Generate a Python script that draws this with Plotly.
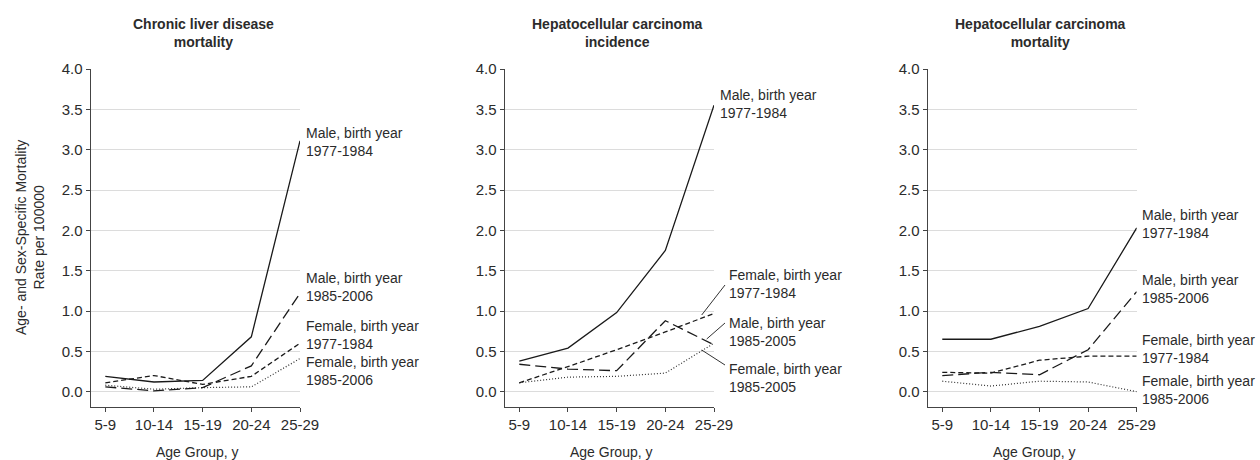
import plotly.graph_objects as go

age_groups = ["5-9", "10-14", "15-19", "20-24", "25-29"]
y_ticks = [0.0, 0.5, 1.0, 1.5, 2.0, 2.5, 3.0, 3.5, 4.0]

panel_titles = ["Chronic liver disease<br>mortality",
                "Hepatocellular carcinoma<br>incidence",
                "Hepatocellular carcinoma<br>mortality"]

# Panel 1: Chronic liver disease mortality
cld_male_1977 = [0.19, 0.12, 0.14, 0.68, 3.11]
cld_male_1985 = [0.06, 0.01, 0.05, 0.32, 1.22]
cld_female_1977 = [0.11, 0.20, 0.09, 0.19, 0.60]
cld_female_1985 = [0.08, 0.03, 0.05, 0.06, 0.41]

# Panel 2: Hepatocellular carcinoma incidence
hcci_male_1977 = [0.38, 0.54, 0.98, 1.75, 3.55]
hcci_male_1985 = [0.34, 0.28, 0.26, 0.88, 0.58]
hcci_female_1977 = [0.11, 0.31, 0.52, 0.74, 0.97]
hcci_female_1985 = [0.11, 0.18, 0.19, 0.23, 0.60]

# Panel 3: Hepatocellular carcinoma mortality
hccm_male_1977 = [0.65, 0.65, 0.81, 1.03, 2.03]
hccm_male_1985 = [0.20, 0.24, 0.21, 0.52, 1.24]
hccm_female_1977 = [0.24, 0.23, 0.39, 0.44, 0.44]
hccm_female_1985 = [0.13, 0.07, 0.13, 0.12, 0.00]

series_labels_1 = ["Male, birth year<br>1977-1984", "Male, birth year<br>1985-2006",
                   "Female, birth year<br>1977-1984", "Female, birth year<br>1985-2006"]
series_labels_2 = ["Male, birth year<br>1977-1984", "Female, birth year<br>1977-1984",
                   "Male, birth year<br>1985-2005", "Female, birth year<br>1985-2005"]
series_labels_3 = ["Male, birth year<br>1977-1984", "Male, birth year<br>1985-2006",
                   "Female, birth year<br>1977-1984", "Female, birth year<br>1985-2006"]

W, H = 1260, 460
FONT = "Liberation Sans, Arial, sans-serif"
TXT = "#2b2b2b"
LINE = "#1a1a1a"

styles = {
    "male_1977": dict(dash="solid", width=1.3, color=LINE),
    "male_1985": dict(dash="11px,5px", width=1.3, color=LINE),
    "female_1977": dict(dash="5px,3px", width=1.3, color=LINE),
    "female_1985": dict(dash="1px,2px", width=1.2, color="#333333"),
}

panels = [
    dict(male_1977=cld_male_1977, male_1985=cld_male_1985,
         female_1977=cld_female_1977, female_1985=cld_female_1985),
    dict(male_1977=hcci_male_1977, male_1985=hcci_male_1985,
         female_1977=hcci_female_1977, female_1985=hcci_female_1985),
    dict(male_1977=hccm_male_1977, male_1985=hccm_male_1985,
         female_1977=hccm_female_1977, female_1985=hccm_female_1985),
]

# plot area pixel extents
x_px = [(90.7, 300.0), (504.7, 714.0), (927.7, 1136.7)]
y_px = (69.0, 407.0)

fig = go.Figure()
for i, p in enumerate(panels):
    sfx = "" if i == 0 else str(i + 1)
    for key in ["female_1985", "female_1977", "male_1985", "male_1977"]:
        fig.add_trace(go.Scatter(
            x=age_groups, y=p[key], mode="lines", line=styles[key],
            xaxis="x" + sfx, yaxis="y" + sfx, showlegend=False, hoverinfo="skip"))

layout = dict(
    width=W, height=H, autosize=False, margin=dict(l=0, r=0, t=0, b=0, pad=0),
    paper_bgcolor="white", plot_bgcolor="white",
    font=dict(family=FONT, size=15, color=TXT),
    showlegend=False,
)
for i in range(3):
    sfx = "" if i == 0 else str(i + 1)
    x0, x1 = x_px[i]
    layout["xaxis" + sfx] = dict(
        domain=[x0 / W, x1 / W], anchor="y" + sfx, type="category",
        categoryorder="array", categoryarray=age_groups, automargin=False,
        range=[-0.3, 4.0], showgrid=False, zeroline=False,
        showline=True, linecolor="#444444", linewidth=1.3,
        ticks="outside", ticklen=4, tickcolor="#444444", tickwidth=1.2,
        tickfont=dict(size=15, color=TXT, family=FONT), fixedrange=True)
    layout["yaxis" + sfx] = dict(
        domain=[1 - y_px[1] / H, 1 - y_px[0] / H], anchor="x" + sfx,
        range=[-0.19, 4.0], tickvals=y_ticks, automargin=False,
        ticktext=[f"{v:.1f}" for v in y_ticks],
        showgrid=True, gridcolor="#dcdcdc", gridwidth=1, zeroline=False,
        showline=True, linecolor="#444444", linewidth=1.3,
        ticks="outside", ticklen=4, tickcolor="#444444", tickwidth=1.2,
        tickfont=dict(size=15, color=TXT, family=FONT), fixedrange=True)
fig.update_layout(**layout)

ann = []
title_cx = [203, 617, 1040]
for i in range(3):
    ann.append(dict(text="<b>" + panel_titles[i].replace("<br>", "</b><br><b>") + "</b>",
                    x=title_cx[i] / W, y=1 - 33 / H, xref="paper", yref="paper",
                    xanchor="center", yanchor="middle", showarrow=False,
                    font=dict(size=14, color=TXT, family=FONT)))
    cx = (x_px[i][0] + x_px[i][1]) / 2 + 2
    ann.append(dict(text="Age Group, y", x=cx / W, y=1 - 452 / H,
                    xref="paper", yref="paper", xanchor="center", yanchor="middle",
                    showarrow=False, font=dict(size=14, color=TXT, family=FONT)))

ann.append(dict(text="Age- and Sex-Specific Mortality<br>Rate per 100000",
                x=30 / W, y=1 - 238 / H, xref="paper", yref="paper",
                xanchor="center", yanchor="middle", textangle=-90, showarrow=False,
                font=dict(size=14, color=TXT, family=FONT)))

label_pos = [
    (304, [142, 287, 334.5, 371], series_labels_1),
    (717.7, [104.5], series_labels_2[:1]),
    (726.7, [284, 331.5, 377.5], series_labels_2[1:]),
    (1140, [223.5, 289, 348.5, 390], series_labels_3),
]
for lx, ys, labels in label_pos:
    for yy, lab in zip(ys, labels):
        ann.append(dict(text=lab, x=lx / W, y=1 - yy / H, xref="paper", yref="paper",
                        xanchor="left", yanchor="middle", align="left", showarrow=False,
                        font=dict(size=14, color=TXT, family=FONT)))
fig.update_layout(annotations=ann)

# leader lines for panel 2 labels (paper pixel positions)
leaders = [((701.7, 315), (725, 285)), ((706.7, 339), (725, 323)), ((701.7, 350), (725, 365))]
for (ax0, ay0), (ax1, ay1) in leaders:
    fig.add_shape(type="line", xref="paper", yref="paper",
                  x0=ax0 / W, y0=1 - ay0 / H, x1=ax1 / W, y1=1 - ay1 / H,
                  line=dict(color="#333333", width=1))

fig.write_html("out.html", config={"responsive": False, "displayModeBar": False},
               post_script="document.body.style.margin='0';document.body.style.overflow='hidden';")
